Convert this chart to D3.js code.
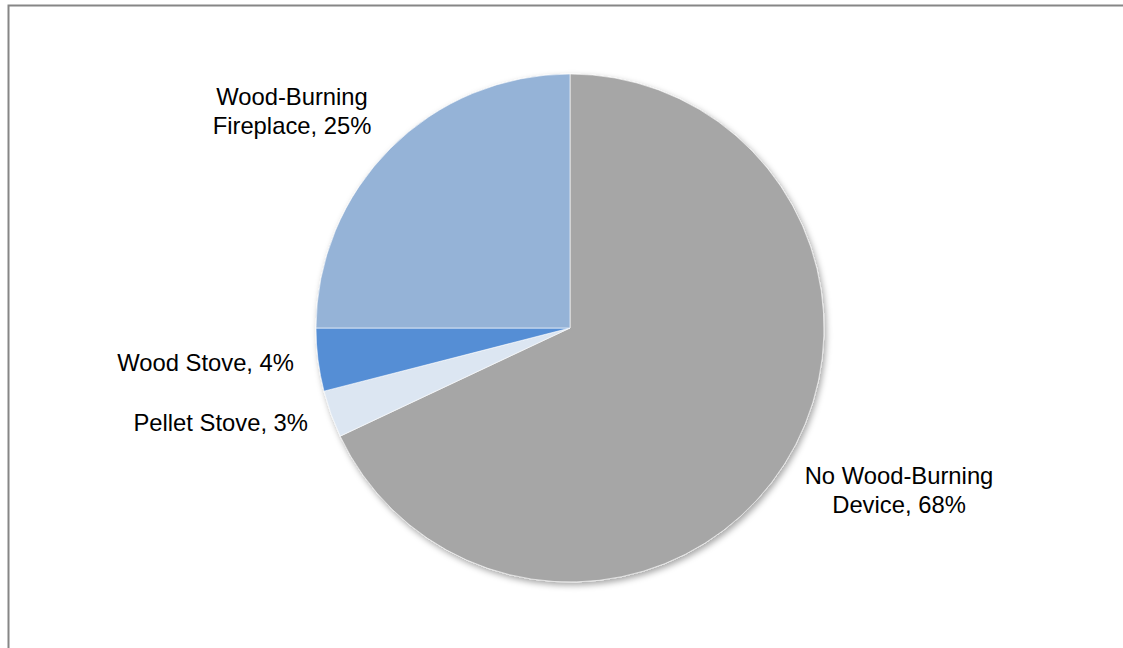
<!DOCTYPE html>
<html>
<head>
<meta charset="utf-8">
<script src="https://cdn.jsdelivr.net/npm/d3@7/dist/d3.min.js"></script>
<style>
  html, body { margin: 0; padding: 0; background: #fff; overflow: hidden; }
  svg { display: block; }
  text { font-family: "Liberation Sans", Arial, sans-serif; font-size: 23.8px; fill: #000; }
</style>
</head>
<body>
<svg id="chart" width="1123" height="648"></svg>
<script>
// Share of households by wood-burning device
const categories = ["No Wood-Burning Device", "Pellet Stove", "Wood Stove", "Wood-Burning Fireplace"];
const values = [68, 3, 4, 25];
const labelLines = [
  ["No Wood-Burning", "Device, 68%"],
  ["Pellet Stove, 3%"],
  ["Wood Stove, 4%"],
  ["Wood-Burning", "Fireplace, 25%"]
];
const colors = ["#A6A6A6", "#DCE6F2", "#558ED5", "#95B3D7"];

const W = 1123, H = 648;
const cx = 570, cy = 328, R = 254;
const lineGap = 29;

// Label placement: first baseline offset from pie centre, anchor
const labelLayout = [
  { dx: 329, dy: 156, anchor: "middle" },
  { dx: -262, dy: 103, anchor: "end" },
  { dx: -276, dy: 43, anchor: "end" },
  { dx: -278, dy: -223, anchor: "middle" }
];

const svg = d3.select("#chart");

// Chart frame
svg.append("rect")
  .attr("x", 8.5).attr("y", 5.5)
  .attr("width", W + 20).attr("height", H + 20)
  .attr("fill", "none").attr("stroke", "#868686").attr("stroke-width", 2);

const defs = svg.append("defs");
const f = defs.append("filter").attr("id", "shadow")
  .attr("x", "-10%").attr("y", "-10%").attr("width", "120%").attr("height", "120%");
f.append("feDropShadow")
  .attr("dx", 2).attr("dy", 3).attr("stdDeviation", 3)
  .attr("flood-color", "#000").attr("flood-opacity", 0.35);

const pie = d3.pie().sort(null).value(d => d)
  .startAngle(0).endAngle(2 * Math.PI);
const arc = d3.arc().innerRadius(0).outerRadius(R);

const g = svg.append("g").attr("transform", `translate(${cx},${cy})`);

g.append("g").attr("filter", "url(#shadow)")
  .selectAll("path")
  .data(pie(values))
  .join("path")
  .attr("d", arc)
  .attr("fill", (d, i) => colors[i])
  .attr("stroke", "#fff")
  .attr("stroke-width", 0.6);

const lbl = g.append("g").selectAll("text")
  .data(labelLines)
  .join("text")
  .attr("text-anchor", (d, i) => labelLayout[i].anchor)
  .attr("transform", (d, i) => `translate(${labelLayout[i].dx},${labelLayout[i].dy})`);

lbl.each(function (lines) {
  const t = d3.select(this);
  lines.forEach((s, k) => {
    t.append("tspan")
      .attr("x", 0)
      .attr("y", k * lineGap)
      .text(s);
  });
});
</script>
</body>
</html>
